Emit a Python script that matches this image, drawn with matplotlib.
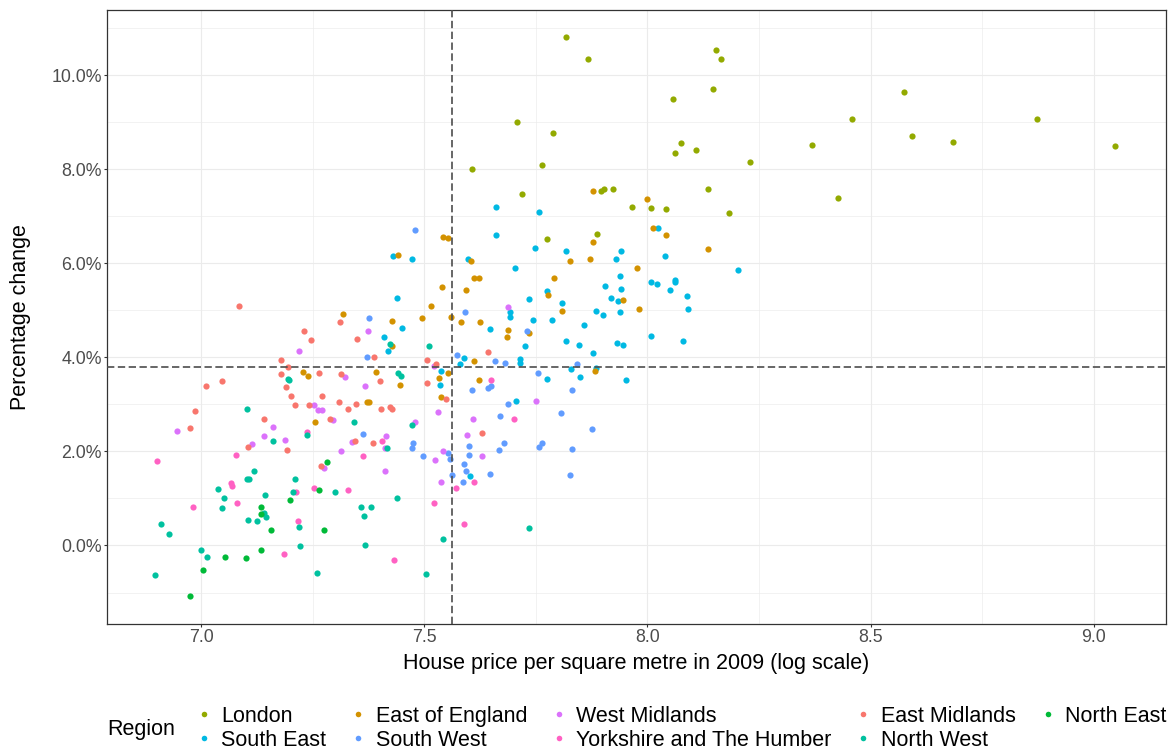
import matplotlib.pyplot as plt
from matplotlib.lines import Line2D
from matplotlib.ticker import MultipleLocator, FuncFormatter

plt.rcParams['font.family'] = ['Liberation Sans', 'DejaVu Sans']

# (log house price per m2 in 2009, percentage change) for each local authority
london = [(7.817, 10.81), (7.866, 10.34), (8.153, 10.54), (8.164, 10.34), (8.146, 9.71),
          (8.058, 9.49), (8.576, 9.64), (8.458, 9.08), (8.872, 9.08), (7.789, 8.78),
          (8.592, 8.71), (8.684, 8.59), (8.076, 8.57), (8.109, 8.42), (8.061, 8.34),
          (8.369, 8.52), (9.048, 8.50), (7.764, 8.10), (8.230, 8.15), (8.135, 7.59),
          (8.427, 7.39), (7.895, 7.54), (7.902, 7.59), (7.923, 7.59), (7.966, 7.20),
          (8.009, 7.17), (8.041, 7.15), (8.182, 7.08), (7.606, 8.00), (7.719, 7.48),
          (7.775, 6.51), (7.888, 6.63), (7.707, 9.01)]

south_east = [(7.661, 7.21), (7.757, 7.09), (7.661, 6.60), (7.747, 6.33), (7.818, 6.26),
              (7.941, 6.26), (7.929, 6.09), (8.039, 6.16), (8.024, 6.75), (7.599, 6.09),
              (7.704, 5.90), (7.939, 5.73), (8.007, 5.60), (8.021, 5.57), (8.062, 5.65),
              (8.062, 5.60), (7.906, 5.51), (7.941, 5.46), (8.051, 5.43), (8.089, 5.31),
              (8.092, 5.02), (7.918, 5.26), (7.934, 5.19), (7.939, 4.96), (7.775, 5.41),
              (7.734, 5.24), (7.809, 5.16), (7.885, 4.99), (7.900, 4.90), (7.744, 4.80),
              (7.786, 4.80), (7.857, 4.70), (7.693, 4.96), (7.691, 4.87), (7.647, 4.60),
              (7.725, 4.24), (7.818, 4.34), (7.847, 4.27), (7.931, 4.31), (7.946, 4.26),
              (8.007, 4.46), (8.080, 4.36), (7.877, 4.09), (7.714, 3.97), (7.714, 3.88),
              (7.589, 3.99), (7.581, 3.87), (7.829, 3.75), (7.885, 3.78), (7.775, 3.55),
              (7.850, 3.58), (7.952, 3.53), (7.537, 3.71), (7.535, 3.41), (8.204, 5.85),
              (7.472, 6.09), (7.451, 4.63), (7.429, 6.16), (7.439, 5.27), (7.418, 4.13),
              (7.409, 4.44), (7.602, 1.47), (7.705, 3.07)]

east_of_england = [(7.879, 7.54), (7.999, 7.37), (8.012, 6.75), (8.041, 6.60), (8.135, 6.31),
                   (7.877, 6.46), (7.872, 6.09), (7.827, 6.05), (7.977, 5.90), (7.790, 5.70),
                   (7.778, 5.33), (7.809, 4.99), (7.946, 5.23), (7.980, 5.02), (7.542, 6.56),
                   (7.552, 6.53), (7.604, 6.06), (7.612, 5.70), (7.622, 5.68), (7.540, 5.49),
                   (7.594, 5.43), (7.515, 5.09), (7.560, 4.85), (7.583, 4.75), (7.625, 4.75),
                   (7.734, 4.53), (7.688, 4.58), (7.685, 4.43), (7.612, 3.92), (7.533, 3.56),
                   (7.553, 3.66), (7.622, 3.51), (7.882, 3.71), (7.494, 4.83), (7.446, 3.42),
                   (7.538, 3.15), (7.442, 6.18), (7.318, 4.93), (7.427, 4.78), (7.427, 4.24),
                   (7.228, 3.69), (7.239, 3.61), (7.391, 3.69), (7.371, 3.05), (7.376, 3.05),
                   (7.255, 2.62)]

south_west = [(7.591, 4.97), (7.731, 4.57), (7.573, 4.05), (7.658, 3.92), (7.681, 3.88),
              (7.842, 3.85), (7.754, 3.66), (7.649, 3.40), (7.643, 3.36), (7.832, 3.31),
              (7.608, 3.31), (7.479, 6.70), (7.687, 3.00), (7.807, 2.82), (7.669, 2.75),
              (7.876, 2.48), (7.679, 2.17), (7.600, 2.11), (7.668, 2.03), (7.756, 2.09),
              (7.764, 2.19), (7.831, 2.06), (7.475, 2.18), (7.472, 2.08), (7.375, 4.83),
              (7.371, 4.00), (7.362, 2.37), (7.600, 1.93), (7.588, 1.74), (7.594, 1.59),
              (7.647, 1.52), (7.586, 1.35), (7.561, 1.49), (7.552, 1.96), (7.558, 1.84),
              (7.496, 1.91), (7.826, 1.49)]

west_midlands = [(7.688, 5.07), (7.522, 3.82), (7.530, 2.83), (7.479, 2.63), (7.543, 2.02),
                 (7.750, 3.07), (7.610, 2.68), (7.595, 2.34), (7.373, 4.57), (7.219, 4.13),
                 (7.322, 3.59), (7.368, 3.40), (7.296, 2.67), (7.414, 2.32), (7.339, 2.20),
                 (7.411, 2.08), (7.314, 2.01), (7.525, 1.81), (7.630, 1.91), (7.412, 1.59),
                 (7.537, 1.35), (7.252, 2.98), (7.261, 2.89), (7.271, 2.89), (6.946, 2.44),
                 (7.160, 2.52), (7.140, 2.32), (7.187, 2.25), (7.113, 2.15), (7.276, 1.64)]

yorkshire = [(7.650, 3.51), (7.701, 2.70), (7.237, 2.42), (7.077, 1.93), (6.902, 1.79),
             (7.067, 1.33), (7.070, 1.27), (7.252, 1.23), (7.213, 1.13), (6.982, 0.81),
             (7.080, 0.91), (7.216, 0.52), (7.185, -0.18), (7.362, 1.91), (7.406, 2.23),
             (7.612, 1.35), (7.571, 1.23), (7.329, 1.18), (7.522, 0.91), (7.589, 0.45),
             (7.433, -0.31)]

east_midlands = [(7.642, 4.11), (7.527, 3.86), (7.505, 3.95), (7.505, 3.46), (7.549, 3.11),
                 (7.630, 2.39), (7.011, 3.40), (7.047, 3.50), (7.191, 3.38), (7.201, 3.18),
                 (7.270, 3.18), (7.211, 2.98), (7.242, 2.98), (7.288, 2.69), (6.987, 2.86),
                 (6.974, 2.49), (7.140, 2.69), (7.105, 2.10), (7.193, 2.03), (7.268, 1.69),
                 (7.401, 3.49), (7.309, 3.05), (7.330, 2.91), (7.348, 3.01), (7.403, 2.91),
                 (7.424, 2.94), (7.427, 2.91), (7.344, 2.23), (7.385, 2.18), (7.085, 5.10),
                 (7.311, 4.76), (7.231, 4.57), (7.247, 4.37), (7.350, 4.39), (7.180, 3.95),
                 (7.388, 4.00), (7.195, 3.79), (7.180, 3.64), (7.265, 3.66), (7.313, 3.64)]

north_west = [(7.510, 4.24), (7.472, 2.57), (7.196, 3.52), (7.103, 2.91), (7.162, 2.23),
              (7.237, 2.35), (7.119, 1.59), (7.103, 1.42), (7.108, 1.42), (7.211, 1.42),
              (7.038, 1.20), (7.206, 1.13), (7.142, 1.08), (7.052, 1.01), (7.047, 0.79),
              (7.141, 0.69), (7.145, 0.61), (7.106, 0.55), (7.124, 0.52), (7.219, 0.40),
              (6.910, 0.45), (6.928, 0.25), (7.221, -0.02), (6.999, -0.09), (7.013, -0.24),
              (7.260, -0.58), (6.896, -0.63), (7.342, 2.62), (7.417, 2.08), (7.301, 1.13),
              (7.439, 1.01), (7.358, 0.81), (7.381, 0.81), (7.365, 0.62), (7.734, 0.38),
              (7.543, 0.13), (7.368, 0.01), (7.504, -0.60), (7.424, 4.28), (7.195, 3.55),
              (7.442, 3.66), (7.448, 3.61)]

north_east = [(7.282, 1.78), (7.263, 1.18), (7.198, 0.96), (7.134, 0.82), (7.134, 0.66),
              (7.157, 0.33), (7.276, 0.32), (7.054, -0.24), (7.101, -0.27), (7.134, -0.10),
              (7.005, -0.53), (6.974, -1.07)]

regions = ['London', 'South East', 'East of England', 'South West', 'West Midlands',
           'Yorkshire and The Humber', 'East Midlands', 'North West', 'North East']
region_points = [london, south_east, east_of_england, south_west, west_midlands,
                 yorkshire, east_midlands, north_west, north_east]
colours = ['#93AA00', '#00B9E3', '#D39200', '#619CFF', '#DB72FB',
           '#FF61C3', '#F8766D', '#00C19F', '#00BA38']

# averages shown as the dashed reference lines
mean_log_price = 7.563
mean_change = 3.79

W, H = 1174, 753
fig = plt.figure(figsize=(W / 100, H / 100), dpi=100)
ax = fig.add_axes([107 / W, 1 - 624 / H, (1166 - 107) / W, (624 - 10) / H])

for pts, col in zip(region_points, colours):
    xs = [p[0] for p in pts]
    ys = [p[1] for p in pts]
    ax.scatter(xs, ys, s=20, color=col, linewidths=0, zorder=2)

ax.axvline(mean_log_price, color='#4D4D4D', lw=1.2, dashes=(4.4, 2.1), zorder=3)
ax.axhline(mean_change, color='#4D4D4D', lw=1.2, dashes=(4.4, 2.1), zorder=3)

ax.set_xlim(6.789, 9.162)
ax.set_ylim(-1.67, 11.39)
ax.xaxis.set_major_locator(MultipleLocator(0.5))
ax.xaxis.set_minor_locator(MultipleLocator(0.25))
ax.yaxis.set_major_locator(MultipleLocator(2))
ax.yaxis.set_minor_locator(MultipleLocator(1))
ax.xaxis.set_major_formatter(FuncFormatter(lambda v, _: f'{v:.1f}'))
ax.yaxis.set_major_formatter(FuncFormatter(lambda v, _: f'{v:.1f}%'))

ax.set_axisbelow(True)
ax.grid(which='major', color='#EBEBEB', lw=0.8)
ax.grid(which='minor', color='#EBEBEB', lw=0.45)
ax.tick_params(which='major', length=2.5, width=0.8, color='#333333',
               labelcolor='#4D4D4D', labelsize=12.8, pad=1.2)
ax.tick_params(which='minor', length=0)
for sp in ax.spines.values():
    sp.set_color('#333333')
    sp.set_linewidth(0.9)

ax.set_xlabel('House price per square metre in 2009 (log scale)', fontsize=15.5)
ax.xaxis.set_label_coords(0.5, (624 - 663) / 614)
ax.xaxis.label.set_verticalalignment('center')
ax.set_ylabel('Percentage change', fontsize=15.5)
ax.yaxis.set_label_coords((21 - 107) / 1059, 0.5)
ax.yaxis.label.set_verticalalignment('center')

handles = [Line2D([], [], marker='o', ls='none', markersize=4, markeredgewidth=0,
                  color=c) for c in colours]
fig.legend(handles, regions, ncol=5, loc='upper left',
           bbox_to_anchor=(195 / W, 1 - 706 / H), frameon=False, fontsize=15.5,
           handlelength=0.8, handletextpad=0.42, columnspacing=1.07,
           labelspacing=0.14, borderpad=0, borderaxespad=0)
fig.text(107 / W, 1 - 730 / H, 'Region', fontsize=15.5, va='center', ha='left')

fig.savefig('out.png', dpi=100)
